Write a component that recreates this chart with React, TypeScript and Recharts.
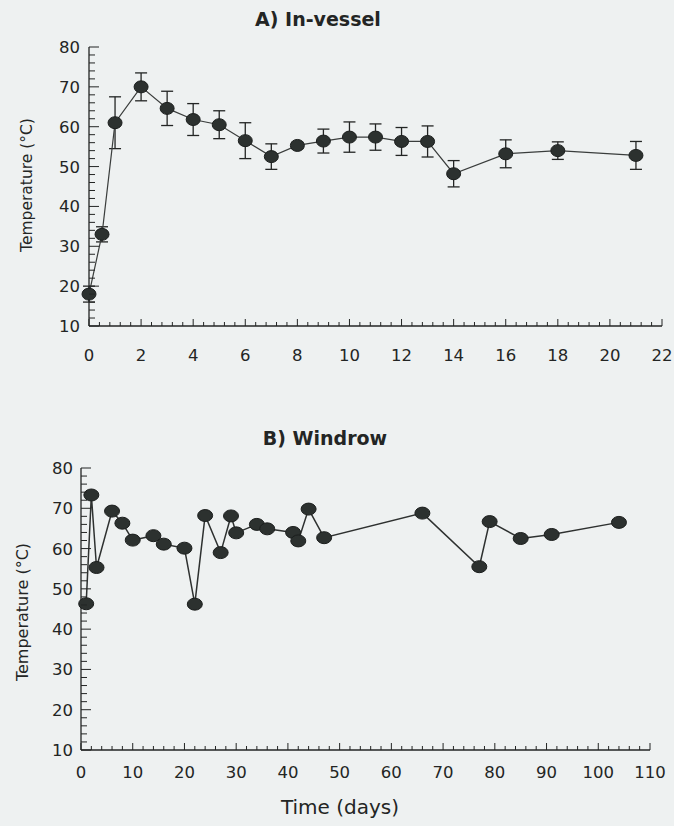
import React from "react";
import { LineChart, Line, XAxis, YAxis, ErrorBar } from "recharts";

// Panel A: In-vessel
const vesselDays = [0, 0.5, 1, 2, 3, 4, 5, 6, 7, 8, 9, 10, 11, 12, 13, 14, 16, 18, 21];
const vesselTemp = [18, 33, 61, 70, 64.6, 61.8, 60.5, 56.5, 52.5, 55.3, 56.4, 57.4, 57.4, 56.3, 56.3, 48.2, 53.2, 54, 52.8];
const vesselErr = [2, 1.9, 6.5, 3.5, 4.3, 4, 3.5, 4.5, 3.2, 0.8, 3, 3.8, 3.3, 3.5, 3.9, 3.3, 3.5, 2.2, 3.5];

// Panel B: Windrow
const windrowDays = [1, 2, 3, 6, 8, 10, 14, 16, 20, 22, 24, 27, 29, 30, 34, 36, 41, 42, 44, 47, 66, 77, 79, 85, 91, 104];
const windrowTemp = [46.3, 73.3, 55.3, 69.3, 66.3, 62.1, 63.2, 61.1, 60.1, 46.2, 68.2, 59, 68.1, 63.9, 66, 64.9, 64, 61.9, 69.8, 62.7, 68.8, 55.5, 66.7, 62.5, 63.5, 66.5];

// Tick labels
const yMajor = [10, 20, 30, 40, 50, 60, 70, 80];
const xMajorA = [0, 2, 4, 6, 8, 10, 12, 14, 16, 18, 20, 22];
const xMajorB = [0, 10, 20, 30, 40, 50, 60, 70, 80, 90, 100, 110];

const minorSteps = (from: number, to: number, step: number) => {
  const out: number[] = [];
  const n = Math.round((to - from) / step);
  for (let i = 0; i <= n; i++) out.push(Math.round((from + i * step) * 100) / 100);
  return out;
};
const yTicks = minorSteps(10, 80, 2);
const xTicksA = minorSteps(0, 22, 0.4);
const xTicksB = minorSteps(0, 110, 2);

const vesselData = vesselDays.map((d, i) => ({ day: d, temp: vesselTemp[i], err: vesselErr[i] }));
const windrowData = windrowDays.map((d, i) => ({ day: d, temp: windrowTemp[i] }));

const FONT = "DejaVu Sans";
const INK = "#232524";

const isIn = (arr: number[], v: number) => arr.some((m) => Math.abs(m - v) < 1e-6);

const makeXTick = (majors: number[], labelOffset: number) => (props: any) => {
  const { x, y, payload } = props;
  const major = isIn(majors, payload.value);
  return (
    <g>
      <line x1={x} x2={x} y1={y} y2={y - (major ? 7 : 4)} stroke={INK} strokeWidth={1} />
      {major && (
        <text x={x} y={y + labelOffset} textAnchor="middle" fontFamily={FONT} fontSize={16.5} fill={INK}>
          {payload.value}
        </text>
      )}
    </g>
  );
};

const makeYTick = (majors: number[], gap: number) => (props: any) => {
  const { x, y, payload } = props;
  const major = isIn(majors, payload.value);
  return (
    <g>
      <line x1={x} x2={x + (major ? 10 : 6)} y1={y} y2={y} stroke={INK} strokeWidth={1} />
      {major && (
        <text x={x - gap} y={y} dy="0.36em" textAnchor="end" fontFamily={FONT} fontSize={16.5} fill={INK}>
          {payload.value}
        </text>
      )}
    </g>
  );
};

const renderDot = (rx: number, ry: number) => (p: any) => (
  <ellipse key={`d${p.index}`} cx={p.cx} cy={p.cy} rx={rx} ry={ry} fill="#2c312f" stroke="#1b1e1d" strokeWidth={1} />
);

const abs = (s: React.CSSProperties): React.CSSProperties => ({ position: "absolute", ...s });

export default function App() {
  return (
    <div style={abs({ left: 0, top: 0, width: 674, height: 826, background: "#eef1f1", fontFamily: FONT, color: INK, overflow: "hidden" })}>
      <div style={abs({ left: 318, top: 19, transform: "translate(-50%,-50%)", fontWeight: "bold", fontSize: 19, whiteSpace: "nowrap" })}>
        A) In-vessel
      </div>
      <div style={abs({ left: 27, top: 185, transform: "translate(-50%,-50%) rotate(-90deg)", fontSize: 15.5, whiteSpace: "nowrap" })}>
        Temperature (°C)
      </div>
      <div style={abs({ left: 0, top: 0 })}>
        <LineChart width={674} height={375} data={vesselData} margin={{ top: 47, right: 12, bottom: 19, left: 0 }}>
          <XAxis
            dataKey="day"
            type="number"
            domain={[0, 22]}
            ticks={xTicksA}
            interval={0}
            tickSize={0}
            tickMargin={0}
            tickLine={false}
            height={30}
            axisLine={{ stroke: INK, strokeWidth: 1.3 }}
            tick={makeXTick(xMajorA, 35)}
          />
          <YAxis
            type="number"
            domain={[10, 80]}
            ticks={yTicks}
            interval={0}
            tickSize={0}
            tickMargin={0}
            tickLine={false}
            width={89}
            axisLine={{ stroke: INK, strokeWidth: 1.3 }}
            tick={makeYTick(yMajor, 9)}
          />
          <Line
            dataKey="temp"
            stroke="#3a3d3c"
            strokeWidth={1.2}
            isAnimationActive={false}
            dot={renderDot(7, 6)}
            activeDot={false}
          >
            <ErrorBar dataKey="err" width={6} stroke={INK} strokeWidth={1.3} direction="y" />
          </Line>
        </LineChart>
      </div>

      <div style={abs({ left: 325, top: 438, transform: "translate(-50%,-50%)", fontWeight: "bold", fontSize: 19, whiteSpace: "nowrap" })}>
        B) Windrow
      </div>
      <div style={abs({ left: 22, top: 612, transform: "translate(-50%,-50%) rotate(-90deg)", fontSize: 16, whiteSpace: "nowrap" })}>
        Temperature (°C)
      </div>
      <div style={abs({ left: 0, top: 420 })}>
        <LineChart width={674} height={372} data={windrowData} margin={{ top: 48, right: 24, bottom: 12, left: 0 }}>
          <XAxis
            dataKey="day"
            type="number"
            domain={[0, 110]}
            ticks={xTicksB}
            interval={0}
            tickSize={0}
            tickMargin={0}
            tickLine={false}
            height={30}
            axisLine={{ stroke: INK, strokeWidth: 1.3 }}
            tick={makeXTick(xMajorB, 28)}
          />
          <YAxis
            type="number"
            domain={[10, 80]}
            ticks={yTicks}
            interval={0}
            tickSize={0}
            tickMargin={0}
            tickLine={false}
            width={81}
            axisLine={{ stroke: INK, strokeWidth: 1.3 }}
            tick={makeYTick(yMajor, 8)}
          />
          <Line
            dataKey="temp"
            stroke="#2e3130"
            strokeWidth={1.5}
            isAnimationActive={false}
            dot={renderDot(7.5, 6)}
            activeDot={false}
          />
        </LineChart>
      </div>

      <div style={abs({ left: 340, top: 807, transform: "translate(-50%,-50%)", fontSize: 20, whiteSpace: "nowrap" })}>
        Time (days)
      </div>
    </div>
  );
}
